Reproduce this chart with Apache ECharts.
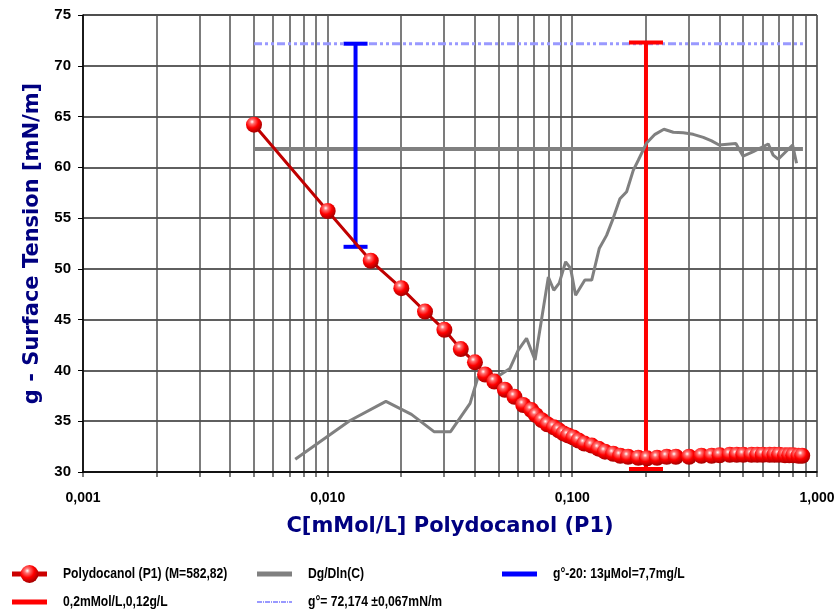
<!DOCTYPE html>
<html><head><meta charset="utf-8">
<script src="https://cdn.jsdelivr.net/npm/echarts@6/dist/echarts.min.js"></script>
<style>html,body{margin:0;padding:0;background:#fff}#c{width:835px;height:613px}</style>
</head><body><div id="c"></div>
<script>
// Polydocanol (P1) surface tension data
const polyC = [0.005,0.010,0.015,0.020,0.025,0.030,0.035,0.040,0.044,0.048,0.053,0.058,0.063,0.068,0.071,0.075,0.079,0.084,0.088,0.092,0.096,0.101,0.106,0.112,0.120,0.128,0.136,0.147,0.157,0.169,0.186,0.202,0.222,0.243,0.265,0.300,0.337,0.371,0.40,0.44,0.47,0.50,0.54,0.57,0.60,0.64,0.67,0.70,0.74,0.77,0.80,0.84,0.87];
const polyG = [64.2,55.7,50.8,48.1,45.8,44.0,42.1,40.8,39.6,38.9,38.1,37.4,36.6,36.1,35.6,35.1,34.7,34.4,34.1,33.8,33.6,33.4,33.1,32.8,32.6,32.3,32.0,31.8,31.6,31.5,31.4,31.35,31.4,31.5,31.5,31.5,31.6,31.6,31.65,31.7,31.7,31.7,31.7,31.7,31.7,31.7,31.7,31.7,31.65,31.65,31.65,31.6,31.6];
// Dg/Dln(C)
const dgC = [0.00737,0.0123,0.0173,0.022,0.0272,0.0318,0.0382,0.0412,0.0506,0.0556,0.0601,0.065,0.0704,0.0798,0.084,0.0884,0.0939,0.0984,0.1031,0.1125,0.12,0.1288,0.138,0.147,0.1565,0.1667,0.1774,0.186,0.2012,0.2177,0.2368,0.2586,0.284,0.312,0.343,0.371,0.398,0.466,0.499,0.549,0.632,0.662,0.694,0.795,0.825];
const dgV = [31.25,35.05,36.96,35.68,33.97,33.97,36.76,39.38,39.55,40.2,42.0,43.16,41.03,49.2,47.9,48.6,50.7,50.05,47.4,48.9,48.9,52.0,53.3,55.0,56.9,57.6,59.7,60.7,62.4,63.25,63.75,63.45,63.4,63.25,62.95,62.6,62.2,62.35,61.1,61.55,62.3,61.2,60.8,62.2,60.4];
// reference lines
const refC = [0.005, 0.876];
const gammaZero = 72.174;
const plateauDg = 61.8;
const g20C = 0.013, g20Range = [52.174, 72.174];
const cmcC = 0.2, cmcRange = [30.3, 72.3];
const yMin = 30, yMax = 75, yStep = 5;
const xMin = 0.001, xMax = 1;

const names = ['Polydocanol (P1) (M=582,82)','Dg/Dln(C)','g°-20: 13µMol=7,7mg/L','0,2mMol/L,0,12g/L','g°= 72,174 ±0,067mN/m'];

const gridC = [];
for (let d = -3; d <= -1; d++) for (let k = 1; k <= 9; k++) gridC.push([Number((k*Math.pow(10,d)).toPrecision(3)), yMin]);
gridC.push([1, yMin]);

const sans = "'Liberation Sans',Arial,sans-serif";
const wide = "'DejaVu Sans','Verdana',sans-serif";

const sphere = {type:'radial', x:0.38, y:0.32, r:0.7, colorStops:[
  {offset:0,color:'#ffffff'},{offset:0.2,color:'#ff7070'},{offset:0.55,color:'#ff0000'},{offset:1,color:'#a00000'}]};

function errBar(halfW, color){
  return function(params, api){
    const x = api.value(0), lo = api.value(1), hi = api.value(2);
    const a = api.coord([x, hi]), b = api.coord([x, lo]);
    const st = {stroke: color, lineWidth: 4};
    return {type:'group', children:[
      {type:'line', shape:{x1:a[0],y1:a[1],x2:b[0],y2:b[1]}, style:st},
      {type:'line', shape:{x1:a[0]-halfW,y1:a[1],x2:a[0]+halfW,y2:a[1]}, style:st},
      {type:'line', shape:{x1:b[0]-halfW,y1:b[1],x2:b[0]+halfW,y2:b[1]}, style:st}
    ]};
  };
}

// legend (drawn as graphic so the narrow legend font can be imitated)
const legendItems = [
  {name:names[0], x:12,  y:574, kind:'sphere'},
  {name:names[1], x:257, y:574, kind:'line', color:'#808080', w:5},
  {name:names[2], x:502, y:574, kind:'line', color:'#0000ff', w:5},
  {name:names[3], x:12,  y:602, kind:'line', color:'#ff0000', w:5},
  {name:names[4], x:257, y:602, kind:'dash', color:'#9999ff', w:2}
];
const legendGraphics = [];
legendItems.forEach(it=>{
  if (it.kind === 'sphere') {
    legendGraphics.push({type:'line', shape:{x1:it.x,y1:it.y,x2:it.x+35,y2:it.y}, style:{stroke:'#cc0000', lineWidth:5}});
    legendGraphics.push({type:'circle', shape:{cx:it.x+17.5, cy:it.y, r:9}, style:{fill:sphere}});
  } else {
    legendGraphics.push({type:'line', shape:{x1:it.x,y1:it.y,x2:it.x+35,y2:it.y},
      style:{stroke:it.color, lineWidth:it.w, lineDash: it.kind==='dash' ? [5,1,1,1] : null}});
  }
  legendGraphics.push({type:'text', x:it.x+51, y:it.y, scaleX:0.81,
    style:{text:it.name, font:"bold 15px 'Liberation Sans',Arial,sans-serif", fill:'#000', verticalAlign:'middle', align:'left'}});
});

const chart = echarts.init(document.getElementById('c'));
chart.setOption({
  animation:false,
  backgroundColor:'#fff',
  grid:{left:83, right:18, top:15, bottom:141, show:true, borderColor:'#808080', borderWidth:1, containLabel:false, outerBoundsMode:'none'},
  graphic: legendGraphics,
  xAxis:{type:'log', logBase:10, min:xMin, max:xMax,
    name:'C[mMol/L] Polydocanol (P1)', nameLocation:'middle', nameGap:44,
    nameTextStyle:{fontFamily:wide, fontWeight:'bold', fontSize:21, color:'#000080'},
    axisLine:{lineStyle:{color:'#000', width:1.5}}, axisTick:{show:false},
    splitLine:{show:false}, minorSplitLine:{show:false},
    axisLabel:{margin:19, fontFamily:sans, fontWeight:'bold', fontSize:14, color:'#000',
      formatter:v=>Number(v).toFixed(3).replace('.',',')}},
  yAxis:{type:'value', min:yMin, max:yMax, interval:yStep,
    name:'g - Surface Tension [mN/m]', nameLocation:'middle', nameGap:40,
    nameTextStyle:{fontFamily:wide, fontWeight:'bold', fontSize:21, color:'#000080'},
    axisLine:{show:true, lineStyle:{color:'#000', width:1.5}},
    axisTick:{show:true, length:5, lineStyle:{color:'#000'}},
    splitLine:{show:true, lineStyle:{color:'#2a2a2a', width:1.5}},
    axisLabel:{margin:12, fontFamily:sans, fontWeight:'bold', fontSize:15, color:'#000'}},
  series:[
    {type:'custom', name:'grid', silent:true, clip:false, z:0, data:gridC, encode:{x:0,y:1},
      renderItem:function(params, api){
        const x = api.value(0);
        const t = api.coord([x, yMax]), b = api.coord([x, yMin]);
        const px = Math.round(t[0]);
        return {type:'line', shape:{x1:px,y1:t[1],x2:px,y2:b[1]+5}, style:{stroke:'#505050', lineWidth:1.5}};
      }},
    {type:'line', name:names[4], data:refC.map(c=>[c,gammaZero]), symbol:'none', z:3,
      lineStyle:{color:'#9999ff', width:3, type:[8,3,3,3,3,3]}, itemStyle:{color:'#9999ff'}},
    {type:'line', name:'plateau', data:refC.map(c=>[c,plateauDg]), symbol:'none', z:3,
      lineStyle:{color:'#808080', width:4}},
    {type:'custom', name:names[2], data:[[g20C, g20Range[0], g20Range[1]]], encode:{x:0,y:[1,2]}, z:4,
      itemStyle:{color:'#0000ff'}, renderItem:errBar(12,'#0000ff')},
    {type:'custom', name:names[3], data:[[cmcC, cmcRange[0], cmcRange[1]]], encode:{x:0,y:[1,2]}, z:4,
      itemStyle:{color:'#ff0000'}, renderItem:errBar(17,'#ff0000')},
    {type:'line', name:names[1], data:dgC.map((c,i)=>[c,dgV[i]]), symbol:'none', z:5,
      lineStyle:{color:'#808080', width:3}, itemStyle:{color:'#808080'}},
    {type:'line', name:names[0], data:polyC.map((c,i)=>[c,polyG[i]]), z:6,
      symbol:'circle', symbolSize:16, showAllSymbol:true,
      lineStyle:{color:'#c00000', width:3},
      itemStyle:{color:sphere, borderWidth:0}}
  ]
});
</script></body></html>
